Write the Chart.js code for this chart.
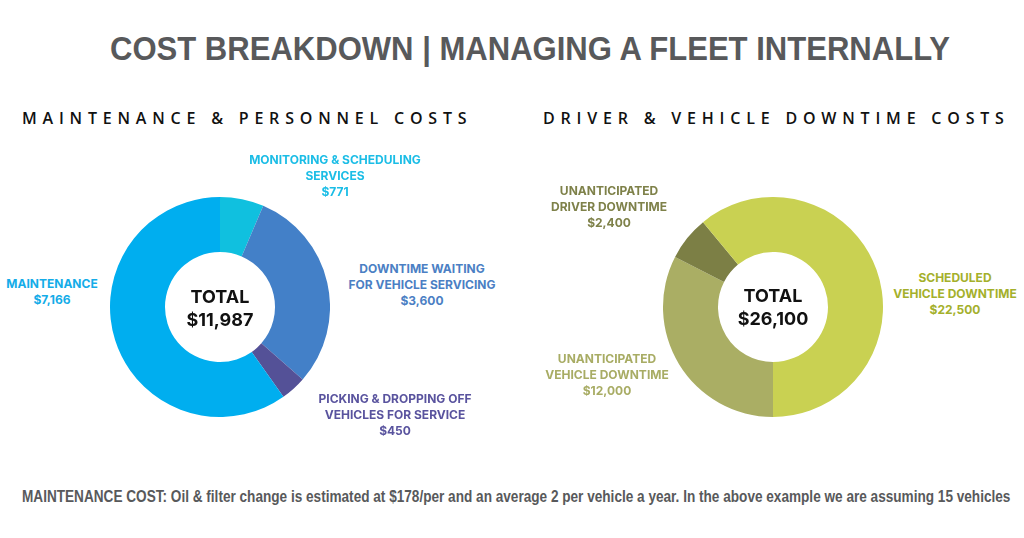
<!DOCTYPE html>
<html>
<head>
<meta charset="utf-8">
<script src="https://cdn.jsdelivr.net/npm/chart.js@4.4.0/dist/chart.umd.min.js"></script>
<style>
    html, body { margin: 0; padding: 0; background: #fff; }
    body { width: 1024px; height: 538px; position: relative; overflow: hidden; }
    .title {
        position: absolute; left: 110px; top: 27px; white-space: nowrap;
        font-family: "Liberation Sans", sans-serif; transform-origin: 0 0;
        font-weight: bold; font-size: 34px; color: #58595b; line-height: 42px;
    }
    .heading {
        position: absolute; top: 106px; line-height: 24px; white-space: nowrap;
        font-family: "Open Sans", sans-serif; font-weight: 600; font-size: 16px;
        letter-spacing: 5.8px; color: #111;
    }
    .footer {
        position: absolute; left: 22px; top: 486px; white-space: nowrap;
        font-family: "Liberation Sans", sans-serif; transform-origin: 0 0;
        font-weight: bold; font-size: 16.5px; color: #58595b; line-height: 20px;
    }
    .chart { position: absolute; }
    .label {
        position: absolute; transform: translateX(-50%); text-align: center;
        white-space: pre; font-family: Inter, sans-serif; font-weight: 700;
        font-size: 12px; line-height: 16px;
    }
    .total {
        position: absolute; transform: translateX(-50%); text-align: center;
        font-family: Inter, sans-serif; font-weight: 700; color: #111;
        font-size: 18px; line-height: 23px;
    }
</style>
</head>
<body>
<div class="title" id="title">COST BREAKDOWN | MANAGING A FLEET INTERNALLY</div>
<div class="heading" style="left:22px">MAINTENANCE &amp; PERSONNEL COSTS</div>
<div class="heading" style="left:543px">DRIVER &amp; VEHICLE DOWNTIME COSTS</div>
<canvas id="leftChart" class="chart" width="220" height="220" style="left:110px; top:197px; width:220px; height:220px"></canvas>
<canvas id="rightChart" class="chart" width="220" height="220" style="left:663px; top:197px; width:220px; height:220px"></canvas>
<div class="footer" id="footer">MAINTENANCE COST: Oil &amp; filter change is estimated at $178/per and an average 2 per vehicle a year. In the above example we are assuming 15 vehicles</div>

<script>
// Maintenance & personnel costs (clockwise from 12 o'clock)
const leftCategories = [
    'MONITORING & SCHEDULING\nSERVICES',
    'DOWNTIME WAITING\nFOR VEHICLE SERVICING',
    'PICKING & DROPPING OFF\nVEHICLES FOR SERVICE',
    'MAINTENANCE'
];
const leftValues = [771, 3600, 450, 7166];
const leftColors = ['#10c0df', '#4380c8', '#545197', '#00aeef'];
const leftTextColors = ['#1bbde6', '#4b7fc4', '#59539e', '#14ace8'];
const leftTotal = 11987;

// Driver & vehicle downtime costs (clockwise from 6 o'clock)
const rightCategories = [
    'UNANTICIPATED\nVEHICLE DOWNTIME',
    'UNANTICIPATED\nDRIVER DOWNTIME',
    'SCHEDULED\nVEHICLE DOWNTIME'
];
const rightValues = [12000, 2400, 22500];
const rightColors = ['#aaae64', '#7c7f45', '#c9d152'];
const rightTextColors = ['#a8ac64', '#7e8149', '#a4b02b'];
const rightTotal = 26100;

// label anchor: centre x, first line centre y (page pixels)
const leftLabelPos = [[335, 160], [422, 269], [395, 399], [52, 284]];
const rightLabelPos = [[607, 359], [609, 191], [955, 278]];

function money(v) {
    return '$' + v.toLocaleString('en-US');
}

// squeeze a one-line text to a given width (the reference uses a condensed face)
function fitWidth(id, width) {
    const el = document.getElementById(id);
    el.style.transform = 'scaleX(' + (width / el.scrollWidth) + ')';
}

function addLabels(categories, values, colors, positions) {
    categories.forEach((cat, i) => {
        const el = document.createElement('div');
        el.className = 'label';
        el.style.color = colors[i];
        el.style.left = positions[i][0] + 'px';
        el.style.top = (positions[i][1] - 8) + 'px';
        el.textContent = cat + '\n' + money(values[i]);
        document.body.appendChild(el);
    });
}

function addTotal(x, y, total) {
    const el = document.createElement('div');
    el.className = 'total';
    el.style.left = x + 'px';
    el.style.top = (y - 11) + 'px';
    el.innerHTML = 'TOTAL<br>' + money(total);
    document.body.appendChild(el);
}

function makeDonut(id, categories, values, colors, rotation) {
    return new Chart(document.getElementById(id), {
        type: 'doughnut',
        data: {
            labels: categories,
            datasets: [{
                data: values,
                backgroundColor: colors,
                borderWidth: 0
            }]
        },
        options: {
            responsive: false,
            animation: false,
            cutout: '50%',
            rotation: rotation,
            layout: { padding: 0 },
            plugins: {
                legend: { display: false },
                tooltip: { enabled: false }
            }
        }
    });
}

makeDonut('leftChart', leftCategories, leftValues, leftColors, 0);
makeDonut('rightChart', rightCategories, rightValues, rightColors, 180);

addLabels(leftCategories, leftValues, leftTextColors, leftLabelPos);
addLabels(rightCategories, rightValues, rightTextColors, rightLabelPos);
addTotal(220, 296, leftTotal);
addTotal(773, 295, rightTotal);

fitWidth('title', 840);
fitWidth('footer', 988);
</script>
</body>
</html>
